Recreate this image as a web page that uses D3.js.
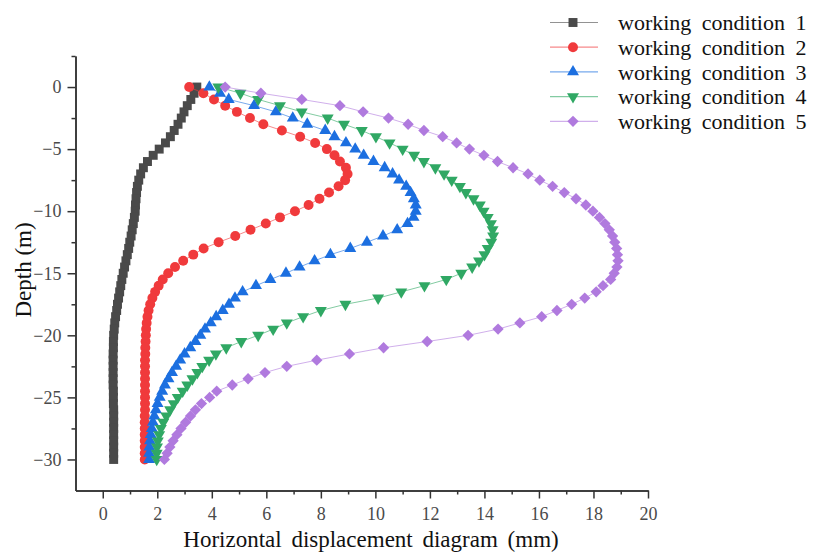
<!DOCTYPE html>
<meta charset="utf-8">
<style>

body {
  margin: 0;
  background: #fff;
}

text {
  font-family: "Liberation Serif", "Times New Roman", serif;
}

.axis path,
.axis line {
  stroke: #333;
  stroke-width: 1.5px;
}

.axis text {
  font-size: 18px;
  fill: #4a4a4a;
}

.title {
  font-size: 23px;
  fill: #111;
}

.legend text {
  font-size: 22px;
  fill: #111;
}

</style>
<svg width="816" height="552"></svg>
<script src="https://cdnjs.cloudflare.com/ajax/libs/d3/7.8.5/d3.min.js"></script>
<script>

// depth of every measuring point (m)
var depths = [
  0, -0.5, -1, -1.5, -2, -2.5, -3, -3.5, -4, -4.5,
  -5, -5.5, -6, -6.5, -7, -7.5, -8, -8.5, -9, -9.5,
  -10, -10.5, -11, -11.5, -12, -12.5, -13, -13.5, -14, -14.5,
  -15, -15.5, -16, -16.5, -17, -17.5, -18, -18.5, -19, -19.5,
  -20, -20.5, -21, -21.5, -22, -22.5, -23, -23.5, -24, -24.5,
  -25, -25.5, -26, -26.5, -27, -27.5, -28, -28.5, -29, -29.5,
  -30
];

// horizontal displacement (mm) for each working condition
var cond1 = [
  3.45, 3.35, 3.23, 3.10, 2.98, 2.88, 2.76, 2.62, 2.48, 2.30,
  2.07, 1.85, 1.64, 1.49, 1.39, 1.32, 1.27, 1.24, 1.22, 1.20,
  1.19, 1.16, 1.12, 1.08, 1.04, 0.99, 0.95, 0.90, 0.85, 0.80,
  0.75, 0.70, 0.66, 0.62, 0.58, 0.54, 0.51, 0.47, 0.44, 0.42,
  0.40, 0.39, 0.39, 0.38, 0.38, 0.38, 0.38, 0.38, 0.38, 0.39,
  0.39, 0.39, 0.40, 0.40, 0.40, 0.40, 0.40, 0.40, 0.40, 0.40,
  0.40
];

var cond2 = [
  3.17, 3.69, 4.08, 4.49, 4.92, 5.40, 5.89, 6.57, 7.24, 7.79,
  8.22, 8.50, 8.70, 8.92, 8.98, 8.89, 8.65, 8.30, 7.95, 7.55,
  7.05, 6.50, 5.98, 5.42, 4.86, 4.25, 3.70, 3.32, 2.95, 2.65,
  2.40, 2.20, 2.05, 1.92, 1.82, 1.74, 1.68, 1.64, 1.61, 1.59,
  1.58, 1.57, 1.56, 1.56, 1.55, 1.55, 1.55, 1.55, 1.55, 1.55,
  1.55, 1.55, 1.55, 1.54, 1.54, 1.54, 1.54, 1.54, 1.54, 1.54,
  1.54
];

var cond3 = [
  3.91, 4.30, 4.62, 5.55, 6.35, 6.97, 7.50, 8.16, 8.50, 8.92,
  9.26, 9.57, 9.93, 10.34, 10.63, 10.87, 11.13, 11.29, 11.41, 11.48,
  11.48, 11.40, 11.18, 10.80, 10.28, 9.69, 9.08, 8.35, 7.77, 7.22,
  6.72, 6.15, 5.62, 5.13, 4.85, 4.63, 4.40, 4.16, 3.96, 3.75,
  3.58, 3.40, 3.21, 3.00, 2.84, 2.69, 2.54, 2.41, 2.28, 2.18,
  2.09, 2.01, 1.95, 1.89, 1.84, 1.80, 1.76, 1.73, 1.71, 1.70,
  1.70
];

var cond4 = [
  4.24, 5.05, 5.70, 6.50, 7.30, 8.25, 8.85, 9.50, 10.02, 10.52,
  11.00, 11.42, 11.78, 12.20, 12.52, 12.80, 13.10, 13.32, 13.60, 13.83,
  13.97, 14.12, 14.24, 14.30, 14.32, 14.25, 14.12, 14.00, 13.80, 13.55,
  13.15, 12.60, 11.80, 10.95, 10.10, 8.90, 8.00, 7.35, 6.75, 6.25,
  5.70, 5.08, 4.53, 4.15, 3.90, 3.65, 3.47, 3.29, 3.10, 2.93,
  2.75, 2.60, 2.47, 2.33, 2.22, 2.13, 2.07, 2.02, 1.99, 1.98,
  1.98
];

var cond5 = [
  4.49, 5.80, 7.30, 8.70, 9.55, 10.48, 11.20, 11.78, 12.47, 12.98,
  13.45, 13.98, 14.48, 15.05, 15.60, 16.03, 16.50, 16.93, 17.36, 17.72,
  17.98, 18.22, 18.42, 18.58, 18.70, 18.78, 18.85, 18.88, 18.90, 18.86,
  18.76, 18.63, 18.35, 18.10, 17.68, 17.20, 16.66, 16.10, 15.30, 14.50,
  13.40, 11.90, 10.30, 9.05, 7.85, 6.75, 5.95, 5.33, 4.75, 4.18,
  3.92, 3.62, 3.40, 3.22, 3.04, 2.87, 2.72, 2.58, 2.46, 2.36,
  2.26
];

var names = ["working condition 1", "working condition 2", "working condition 3",
             "working condition 4", "working condition 5"];
var colors = ["#4a4a4a", "#f03a3c", "#1c6fe0", "#30a864", "#b07ade"];

var xMajor = [0, 2, 4, 6, 8, 10, 12, 14, 16, 18, 20];
var xMinor = [1, 3, 5, 7, 9, 11, 13, 15, 17, 19];
var yMajor = [0, -5, -10, -15, -20, -25, -30];
var yMinor = [2.5, -2.5, -7.5, -12.5, -17.5, -22.5, -27.5];

var series = [cond1, cond2, cond3, cond4, cond5].map(function(vals, i) {
  return {
    name: names[i],
    color: colors[i],
    points: vals.map(function(v, j) { return { x: v, d: depths[j] }; })
  };
});

// marker shapes: square, circle, triangle up, triangle down, diamond
var shapes = [
  { type: d3.symbolSquare, size: 80, rotate: 0 },
  { type: d3.symbolCircle, size: 78, rotate: 0 },
  { type: d3.symbolTriangle, size: 62, rotate: 0 },
  { type: d3.symbolTriangle, size: 62, rotate: 180 },
  { type: d3.symbolSquare, size: 64, rotate: 45 }
];

var svg = d3.select("svg");

var x = d3.scaleLinear().domain([-1, 20]).range([75.5, 648]);
var y = d3.scaleLinear().domain([-32.5, 2.5]).range([490.5, 56]);

// axes
svg.append("g")
    .attr("class", "axis")
    .attr("transform", "translate(0," + y(-32.5) + ")")
    .call(d3.axisBottom(x).tickValues(xMinor).tickSize(4).tickSizeOuter(0).tickFormat(""));

svg.append("g")
    .attr("class", "axis")
    .attr("transform", "translate(0," + y(-32.5) + ")")
    .call(d3.axisBottom(x).tickValues(xMajor).tickSize(8).tickSizeOuter(0).tickPadding(9));

svg.append("g")
    .attr("class", "axis")
    .attr("transform", "translate(" + x(-1) + ",0)")
    .call(d3.axisLeft(y).tickValues(yMinor).tickSize(4).tickSizeOuter(0).tickFormat(""));

svg.append("g")
    .attr("class", "axis")
    .attr("transform", "translate(" + x(-1) + ",0)")
    .call(d3.axisLeft(y).tickValues(yMajor).tickSize(8).tickSizeOuter(0).tickPadding(6));

// titles
svg.append("text")
    .attr("class", "title")
    .attr("x", 371)
    .attr("y", 547)
    .attr("text-anchor", "middle")
    .style("word-spacing", "4px")
    .text("Horizontal displacement diagram (mm)");

svg.append("text")
    .attr("class", "title")
    .attr("transform", "translate(31,270) rotate(-90)")
    .attr("text-anchor", "middle")
    .text("Depth (m)");

// series
var line = d3.line()
    .x(function(d) { return x(d.x); })
    .y(function(d) { return y(d.d); });

function symbolPath(i) {
  return d3.symbol().type(shapes[i].type).size(shapes[i].size)();
}

series.forEach(function(s, i) {
  var g = svg.append("g");

  g.append("path")
      .datum(s.points)
      .attr("fill", "none")
      .attr("stroke", s.color)
      .attr("stroke-opacity", 0.6)
      .attr("stroke-width", 1)
      .attr("d", line);

  g.selectAll("path.mark")
    .data(s.points)
    .enter().append("path")
      .attr("class", "mark")
      .attr("d", symbolPath(i))
      .attr("fill", s.color)
      .attr("transform", function(d) {
        return "translate(" + x(d.x) + "," + y(d.d) + ") rotate(" + shapes[i].rotate + ")";
      });
});

// legend
var legend = svg.append("g").attr("class", "legend");

series.forEach(function(s, i) {
  var ly = 22.5 + i * 24.7;
  var row = legend.append("g").attr("transform", "translate(0," + ly + ")");

  row.append("line")
      .attr("x1", 550).attr("x2", 598)
      .attr("stroke", s.color)
      .attr("stroke-opacity", 0.6)
      .attr("stroke-width", 1.2);

  row.append("path")
      .attr("d", symbolPath(i))
      .attr("fill", s.color)
      .attr("transform", "translate(573,0) rotate(" + shapes[i].rotate + ")");

  row.append("text")
      .attr("x", 618)
      .attr("dy", "0.35em")
      .style("word-spacing", "5px")
      .text(s.name);
});

</script>
